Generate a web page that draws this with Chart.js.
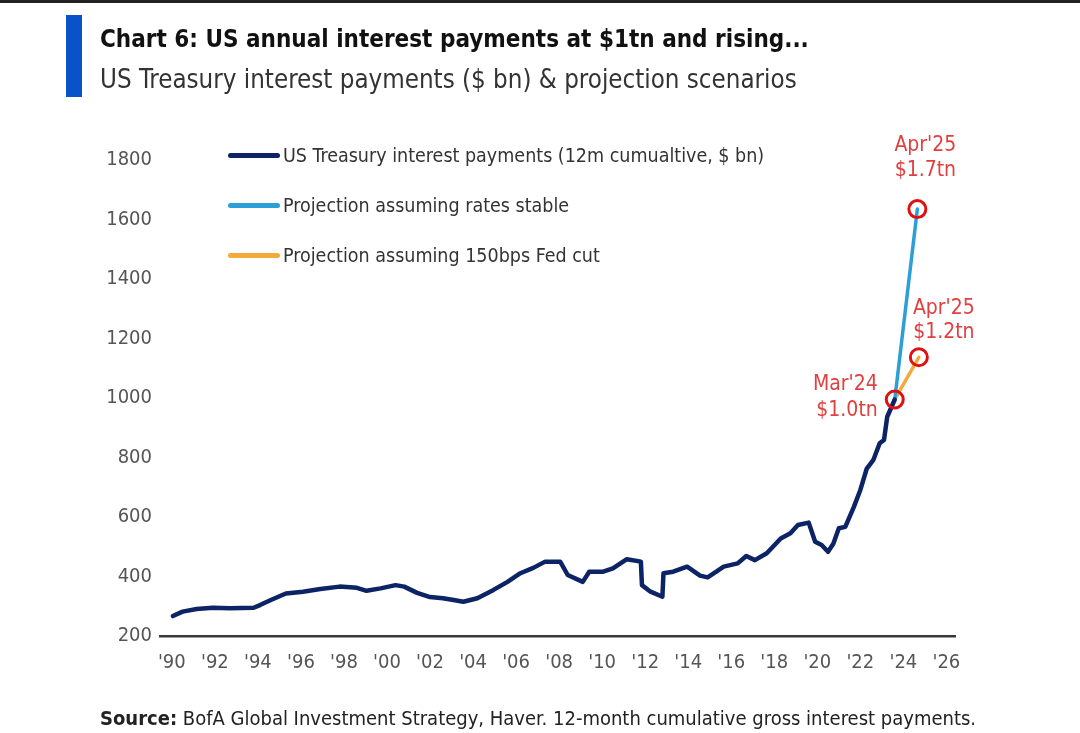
<!DOCTYPE html>
<html>
<head>
<meta charset="utf-8">
<script src="https://cdn.jsdelivr.net/npm/chart.js@4.4.1/dist/chart.umd.min.js"></script>
<style>
  html, body { margin:0; padding:0; background:#fff; }
  #wrap { position:relative; width:1080px; height:733px; overflow:hidden; font-family:'Liberation Sans Narrow','Arial Narrow','DejaVu Sans Condensed',sans-serif; }
  #topline { position:absolute; left:0; top:0; width:1080px; height:3px; background:#222; }
  #bar { position:absolute; left:66px; top:15px; width:16px; height:82px; background:#0a52c9; }
  #title { position:absolute; left:100px; top:27px; font-size:24px; line-height:24px; font-weight:bold; color:#111; white-space:nowrap; }
  #subtitle { position:absolute; left:100px; top:66px; font-size:25.7px; line-height:26px; color:#333; white-space:nowrap; }
  #legend .row { position:absolute; left:228px; height:30px; display:flex; align-items:center; font-size:19.5px; color:#333; white-space:nowrap; }
  #legend .swatch { width:52px; height:5px; border-radius:3px; margin-right:3px; }
  #source { position:absolute; left:100px; top:708px; font-size:20px; line-height:20px; color:#222; white-space:nowrap; }
  canvas { position:absolute; left:0; top:0; }
</style>
</head>
<body>
<div id="wrap">
  <canvas id="chart" width="1080" height="733"></canvas>
  <div id="topline"></div>
  <div id="bar"></div>
  <div id="title">Chart 6: US annual interest payments at $1tn and rising...</div>
  <div id="subtitle">US Treasury interest payments ($ bn) &amp; projection scenarios</div>
  <div id="legend"></div>
  <div id="source"><b>Source:</b> BofA Global Investment Strategy, Haver. 12-month cumulative gross interest payments.</div>
</div>
<script>
// history (year as decimal, $ bn)
const histYears = [1990.05,1990.5,1991.15,1991.9,1992.7,1993.8,1994.1,1994.6,1995.3,1996.1,1996.9,1997.8,1998.6,1999.05,1999.7,2000.4,2000.8,2001.4,2002.0,2002.6,2003.1,2003.55,2004.2,2004.95,2005.6,2006.2,2006.8,2007.35,2008.05,2008.4,2009.1,2009.4,2010.05,2010.5,2011.15,2011.8,2011.85,2012.25,2012.8,2012.85,2013.3,2013.95,2014.55,2014.9,2015.2,2015.65,2016.3,2016.7,2017.1,2017.65,2018.3,2018.75,2019.1,2019.6,2019.9,2020.2,2020.5,2020.75,2021.0,2021.3,2021.7,2022.0,2022.3,2022.6,2022.9,2023.1,2023.25,2023.6];
const histValues = [267,282,291,295,293,295,304,321,343,349,358,366,362,352,360,371,366,345,331,327,321,315,327,355,382,411,429,450,450,405,382,416,416,427,458,450,371,349,332,411,416,433,403,397,411,433,444,469,455,478,528,545,573,581,517,506,483,511,562,567,634,691,763,791,848,859,937,995];

// projections: Mar'24 -> Apr'25
const projYears = [2023.6, 2024.65];
const stableValues = [995, 1635];
const cutYears = [2023.6, 2024.72];
const cutValues = [995, 1137];

// highlighted points + labels
const markerYears = [2024.65, 2024.72, 2023.6];
const markerValues = [1635, 1137, 995];
const markerText = [["Apr'25", "$1.7tn"], ["Apr'25", "$1.2tn"], ["Mar'24", "$1.0tn"]];

const xTickYears = [1990,1992,1994,1996,1998,2000,2002,2004,2006,2008,2010,2012,2014,2016,2018,2020,2022,2024,2026];
const seriesLabels = ['US Treasury interest payments (12m cumualtive, $ bn)', 'Projection assuming rates stable', 'Projection assuming 150bps Fed cut'];

const FONT = "'Liberation Sans Narrow','Arial Narrow','DejaVu Sans Condensed',sans-serif";
const NAVY = '#0c2366', BLUE = '#2c9fd8', ORANGE = '#f2aa3a', RED = '#e01010', RED_TXT = '#e0403f';

function pts(xs, ys){ return xs.map((x,i)=>({x, y: ys[i]})); }

// legend (html, built from the series)
const legendEl = document.getElementById('legend');
[NAVY, BLUE, ORANGE].forEach((c, i)=>{
  const row = document.createElement('div'); row.className = 'row';
  row.style.top = (140 + i*50) + 'px';
  const sw = document.createElement('span'); sw.className = 'swatch'; sw.style.background = c;
  const tx = document.createElement('span'); tx.textContent = seriesLabels[i];
  row.appendChild(sw); row.appendChild(tx); legendEl.appendChild(row);
});

// text next to the red circles
const markerLabels = {
  id: 'markerLabels',
  afterDatasetsDraw(chart){
    const meta = chart.getDatasetMeta(3);
    const offs = [
      {dx: 8, b1: -58, b2: -33, align: 'center'},
      {dx: 25, b1: -43, b2: -19, align: 'center'},
      {dx: -17, b1: -9, b2: 17, align: 'right'}
    ];
    const ctx = chart.ctx;
    ctx.save();
    ctx.fillStyle = RED_TXT;
    ctx.font = '21px ' + FONT;
    ctx.textBaseline = 'alphabetic';
    meta.data.forEach((p, i)=>{
      const o = offs[i];
      ctx.textAlign = o.align;
      ctx.fillText(markerText[i][0], p.x + o.dx, p.y + o.b1);
      ctx.fillText(markerText[i][1], p.x + o.dx, p.y + o.b2);
    });
    ctx.restore();
  }
};

new Chart(document.getElementById('chart'), {
  type: 'line',
  data: {
    datasets: [
      { label: seriesLabels[0], data: pts(histYears, histValues), borderColor: NAVY, borderWidth: 4.5, pointRadius: 0, tension: 0, order: 1, borderJoinStyle: 'round', borderCapStyle: 'round' },
      { label: seriesLabels[1], data: pts(projYears, stableValues), borderColor: BLUE, borderWidth: 3.5, pointRadius: 0, order: 2, borderCapStyle: 'round' },
      { label: seriesLabels[2], data: pts(cutYears, cutValues), borderColor: ORANGE, borderWidth: 3.5, pointRadius: 0, order: 3, borderCapStyle: 'round' },
      { label: 'markers', data: pts(markerYears, markerValues), showLine: false, pointRadius: 8.5, pointBorderWidth: 3, pointBorderColor: RED, pointBackgroundColor: 'rgba(0,0,0,0)', order: 0, clip: false }
    ]
  },
  options: {
    responsive: false,
    animation: false,
    layout: { padding: { top: 160, right: 125, bottom: 57, left: 0 } },
    plugins: { legend: { display: false }, tooltip: { enabled: false } },
    scales: {
      x: {
        type: 'linear', min: 1989.45, max: 2026.4,
        grid: { display: false },
        border: { display: true, color: '#3a3a3a', width: 2.5 },
        afterBuildTicks: s => { s.ticks = xTickYears.map(v => ({ value: v })); },
        afterFit: s => { s.height = 40; },
        ticks: { autoSkip: false, maxRotation: 0, padding: 7, color: '#555', font: { family: FONT, size: 20 },
          callback: v => "'" + String(v).slice(2) }
      },
      y: {
        min: 200, max: 1800,
        grid: { display: false },
        border: { display: false },
        afterFit: s => { s.width = 160; },
        ticks: { stepSize: 200, padding: 0, color: '#555', font: { family: FONT, size: 20 },
          callback: v => String(v) }
      }
    }
  },
  plugins: [markerLabels]
});
</script>
</body>
</html>
